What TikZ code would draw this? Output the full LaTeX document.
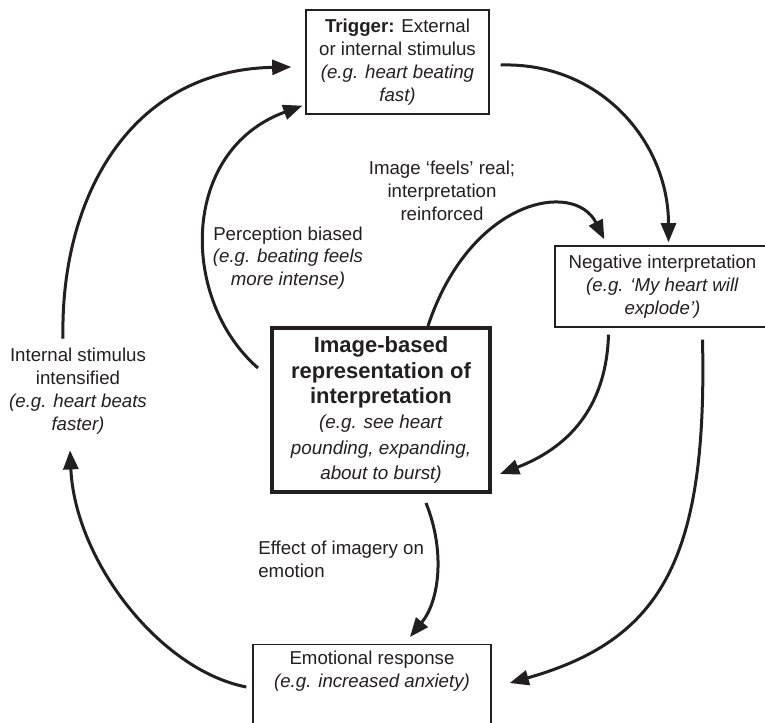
\documentclass[tikz,border=0pt]{standalone}
\usepackage{fontspec}
\setmainfont{Liberation Sans}
\usetikzlibrary{arrows.meta}
\definecolor{ink}{HTML}{231F20}
\tikzset{
  stage/.style={draw=ink,line width=0.8pt,align=center,inner sep=4pt},
  corestage/.style={draw=ink,line width=2.4pt,align=center,inner sep=4pt,
                    font=\fontsize{11.3}{15.2}\selectfont},
  note/.style={align=center,inner sep=0pt},
  flow/.style={-{Triangle[length=11.5pt,width=9pt]},line width=1.8pt,ink},
}
\newcommand{\corehead}{\fontsize{13.2}{15.8}\selectfont\bfseries}

\begin{document}
\begin{tikzpicture}[x=0.6pt,y=-0.6pt,font=\fontsize{11.2}{13.7}\selectfont,text=ink]
  % Frame: 765 x 722 units; two boxes run off the right and bottom edge
  \useasboundingbox(0,0)rectangle(765,722);
  \clip(0,0)rectangle(765,722);

  % Boxes
  \node[stage,minimum width=109.8pt,minimum height=62.4pt](trigger)at(397.5,62)
    {\textbf{Trigger:} External\\or internal stimulus\\\textit{(e.g. heart beating}\\\textit{fast)}};
  \node[stage,minimum width=129pt,minimum height=48.6pt](negint)at(662.5,286.5)
    {Negative interpretation\\\textit{(e.g. ‘My heart will}\\\textit{explode’)}};
  \node[corestage,minimum width=130.8pt,minimum height=98.4pt](image)at(381,410)
    {{\corehead Image-based}\\{\corehead representation of}\\{\corehead interpretation}\\
     \textit{(e.g. see heart}\\\textit{pounding, expanding,}\\\textit{about to burst)}};
  \node[stage,minimum width=142.8pt,anchor=north,text depth=40pt](emotion)at(372,644)
    {Emotional response\\\textit{(e.g. increased anxiety)}};

  % Free labels
  \node[note](feels)at(442,191){Image ‘feels’ real;\\interpretation\\reinforced};
  \node[note](percep)at(288,258)
    {Perception biased\\\textit{(e.g. beating feels}\\\textit{more intense)}};
  \node[note](intens)at(78,391)
    {Internal stimulus\\intensified\\\textit{(e.g. heart beats}\\\textit{faster)}};
  \node[note,align=left,anchor=west](effect)at(258,559.5){Effect of imagery on\\emotion};

  % Outer loop
  \draw[flow]([shift={(11,3)}]trigger.east)
    .. controls +(100,-3) and +(0,-100) .. ([shift={(6,-3)}]negint.north);
  \draw[flow]([shift={(40,12)}]negint.south)
    .. controls +(5,221) and +(151,-43) .. ([shift={(18,39)}]emotion.north east);
  \draw[flow]([shift={(-6,43)}]emotion.north west)
    .. controls +(-87,-17) and +(5,110) .. ([shift={(-8,16)}]intens.south);
  \draw[flow]([shift={(-15,-9)}]intens.north)
    .. controls +(-3,-140) and +(-162,3) .. ([shift={(-14,5)}]trigger.west);

  % Inner loop through the image
  \draw[flow]([shift={(-54,7)}]negint.south)
    .. controls +(-2,66) and +(75,-29) .. ([shift={(8,64)}]image.east);
  \draw[flow]([shift={(47,0)}]image.north)
    .. controls +(42,-127) and +(-30,-60) .. ([shift={(50,-6)}]negint.north west);
  \draw[flow]([shift={(45,9)}]image.south)
    .. controls +(19,47) and +(30,-37) .. ([shift={(38,-7)}]emotion.north);
  \draw[flow]([shift={(-12,42)}]image.north west)
    .. controls +(-78,-68) and +(-123,45) .. ([shift={(-3,-9)}]trigger.south west);
\end{tikzpicture}
\end{document}
